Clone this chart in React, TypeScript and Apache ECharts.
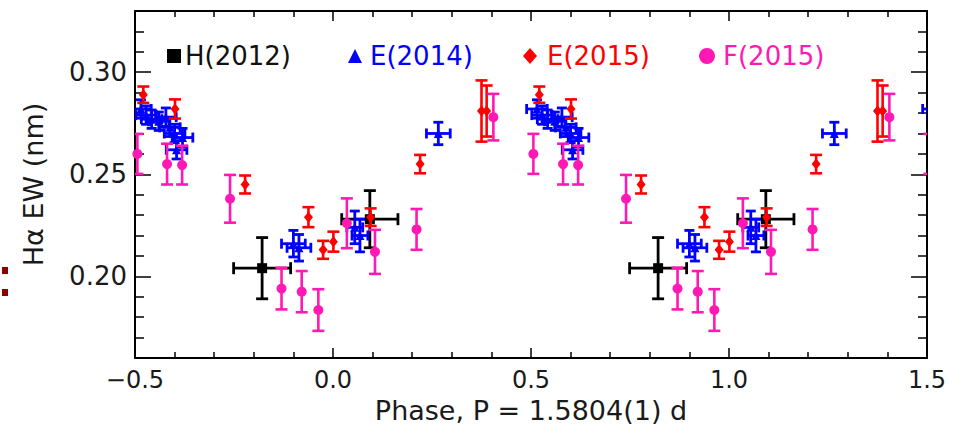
import React, { useEffect, useRef } from "react";
import * as echarts from "echarts";

const FONT = '"DejaVu Sans", "Liberation Sans", sans-serif';
const TEXT_COLOR = "#1a1a1a";

// Phase-folded measurements (phase in [-0.5, 0.5), Hα equivalent width in nm)
const h2012Phase = [-0.179, 0.093];
const h2012Ew = [0.204, 0.228];
const h2012PhaseErr = [0.072, 0.071];
const h2012EwErr = [0.015, 0.014];

const e2014Phase = [-0.485, -0.472, -0.458, -0.44, -0.422, -0.412, -0.4, -0.38, -0.395, -0.1, -0.086, 0.055, 0.068, 0.266];
const e2014Ew = [0.282, 0.279, 0.277, 0.276, 0.278, 0.273, 0.27, 0.268, 0.262, 0.216, 0.214, 0.224, 0.22, 0.27];
const e2014PhaseErr = [0.026, 0.026, 0.026, 0.026, 0.026, 0.026, 0.026, 0.026, 0.026, 0.03, 0.03, 0.02, 0.02, 0.03];
const e2014EwErr = [0.0045, 0.0045, 0.0045, 0.0045, 0.0045, 0.0045, 0.0045, 0.0045, 0.0045, 0.0065, 0.0065, 0.008, 0.008, 0.0055];

const e2015Phase = [-0.479, -0.399, -0.222, -0.062, -0.025, 0.001, 0.095, 0.22, 0.375, 0.388];
const e2015Ew = [0.289, 0.282, 0.245, 0.229, 0.213, 0.217, 0.229, 0.255, 0.281, 0.281];
const e2015EwErr = [0.004, 0.0047, 0.0044, 0.0049, 0.0044, 0.0049, 0.0043, 0.0045, 0.015, 0.0125];

const f2015Phase = [-0.494, -0.419, -0.381, -0.26, -0.13, -0.079, -0.037, 0.035, 0.106, 0.211, 0.405];
const f2015Ew = [0.26, 0.255, 0.2545, 0.238, 0.194, 0.1925, 0.1835, 0.226, 0.212, 0.223, 0.278];
const f2015EwErr = [0.0098, 0.01, 0.0095, 0.0117, 0.0102, 0.0101, 0.0102, 0.0122, 0.0108, 0.01, 0.0114];

// Each measurement is repeated once per cycle so the curve is shown twice
const CYCLE_OFFSETS = [0, 1, 2];

const xTicks = { min: -0.5, max: 1.5, step: 0.5 };
const yRange = { min: 0.16, max: 0.33 };

const X_TITLE = "Phase, P = 1.5804(1) d";
const Y_TITLE = "Hα EW (nm)";

type Group = {
  name: string;
  color: string;
  symbol: string;
  symbolSize: number | number[];
  phase: number[];
  ew: number[];
  phaseErr: number[] | null;
  ewErr: number[];
  cap: number;
  lineWidth: number;
};

const groups: Group[] = [
  { name: "H(2012)", color: "#000000", symbol: "rect", symbolSize: 10, phase: h2012Phase, ew: h2012Ew, phaseErr: h2012PhaseErr, ewErr: h2012EwErr, cap: 6, lineWidth: 2.8 },
  { name: "E(2014)", color: "#0000ff", symbol: "triangle", symbolSize: 9, phase: e2014Phase, ew: e2014Ew, phaseErr: e2014PhaseErr, ewErr: e2014EwErr, cap: 5, lineWidth: 2.8 },
  { name: "E(2015)", color: "#ff0000", symbol: "diamond", symbolSize: [9, 11], phase: e2015Phase, ew: e2015Ew, phaseErr: null, ewErr: e2015EwErr, cap: 6, lineWidth: 2.6 },
  { name: "F(2015)", color: "#ff19b4", symbol: "circle", symbolSize: 10, phase: f2015Phase, ew: f2015Ew, phaseErr: null, ewErr: f2015EwErr, cap: 6, lineWidth: 2.6 },
];

function errorRows(g: Group) {
  const rows: number[][] = [];
  CYCLE_OFFSETS.forEach((off) => {
    g.phase.forEach((p, i) => {
      rows.push([p + off, g.ew[i], g.phaseErr ? g.phaseErr[i] : 0, g.ewErr[i]]);
    });
  });
  return rows;
}

function pointRows(g: Group) {
  const rows: number[][] = [];
  CYCLE_OFFSETS.forEach((off) => {
    g.phase.forEach((p, i) => rows.push([p + off, g.ew[i]]));
  });
  return rows;
}

function errorBarRenderer(color: string, cap: number, lineWidth: number) {
  return (params: any, api: any) => {
    const x = api.value(0);
    const y = api.value(1);
    const xe = api.value(2);
    const ye = api.value(3);
    const style = { stroke: color, lineWidth, fill: "none" };
    const children: any[] = [];
    if (ye > 0) {
      const t = api.coord([x, y + ye]);
      const b = api.coord([x, y - ye]);
      children.push({ type: "line", shape: { x1: t[0], y1: t[1], x2: b[0], y2: b[1] }, style });
      children.push({ type: "line", shape: { x1: t[0] - cap, y1: t[1], x2: t[0] + cap, y2: t[1] }, style });
      children.push({ type: "line", shape: { x1: b[0] - cap, y1: b[1], x2: b[0] + cap, y2: b[1] }, style });
    }
    if (xe > 0) {
      const l = api.coord([x - xe, y]);
      const r = api.coord([x + xe, y]);
      children.push({ type: "line", shape: { x1: l[0], y1: l[1], x2: r[0], y2: r[1] }, style });
      children.push({ type: "line", shape: { x1: l[0], y1: l[1] - cap, x2: l[0], y2: l[1] + cap }, style });
      children.push({ type: "line", shape: { x1: r[0], y1: r[1] - cap, x2: r[0], y2: r[1] + cap }, style });
    }
    return { type: "group", children };
  };
}

const tickLine = { color: "#000", width: 1.5 };
const axisLine = { show: true, onZero: false, lineStyle: { color: "#000", width: 2 } };

function fmtPhase(v: number) {
  return (v < 0 ? "\u2212" : "") + Math.abs(v).toFixed(1);
}

export default function App() {
  const ref = useRef<HTMLDivElement>(null);

  useEffect(() => {
    if (!ref.current) return;
    const chart = echarts.init(ref.current, undefined, { renderer: "svg" });

    const series: any[] = [];
    groups.forEach((g, gi) => {
      series.push({
        type: "custom",
        name: g.name + " error",
        clip: true,
        z: 2 + gi * 2,
        data: errorRows(g),
        encode: { x: 0, y: 1 },
        renderItem: errorBarRenderer(g.color, g.cap, g.lineWidth),
        silent: true,
      });
      series.push({
        type: "scatter",
        name: g.name,
        clip: true,
        z: 3 + gi * 2,
        symbol: g.symbol,
        symbolSize: g.symbolSize,
        itemStyle: { color: g.color, opacity: 1 },
        data: pointRows(g),
      });
    });

    // Legend row drawn inside the plot frame
    const legendY = 56;
    const legendFont = { fontFamily: FONT, fontSize: 26 };
    const graphic: any[] = [
      { type: "rect", left: 2, top: 267, shape: { width: 6, height: 7 }, style: { fill: "#8b0000" } },
      { type: "rect", left: 2, top: 289, shape: { width: 6, height: 7 }, style: { fill: "#8b0000" } },
      { type: "rect", shape: { x: 167, y: legendY - 7, width: 14, height: 14 }, style: { fill: groups[0].color } },
      { type: "text", x: 185, y: legendY, style: { text: groups[0].name, fill: "#111", ...legendFont, verticalAlign: "middle" } },
      { type: "polygon", shape: { points: [[348, legendY + 7], [362, legendY + 7], [355, legendY - 7]] }, style: { fill: groups[1].color } },
      { type: "text", x: 370, y: legendY, style: { text: groups[1].name, fill: groups[1].color, ...legendFont, verticalAlign: "middle" } },
      { type: "polygon", shape: { points: [[530, legendY - 8], [537, legendY], [530, legendY + 8], [523, legendY]] }, style: { fill: groups[2].color } },
      { type: "text", x: 547, y: legendY, style: { text: groups[2].name, fill: groups[2].color, ...legendFont, verticalAlign: "middle" } },
      { type: "circle", shape: { cx: 707, cy: legendY, r: 8 }, style: { fill: groups[3].color } },
      { type: "text", x: 723, y: legendY, style: { text: groups[3].name, fill: groups[3].color, ...legendFont, verticalAlign: "middle" } },
    ];

    const xBase = {
      type: "value",
      min: xTicks.min,
      max: xTicks.max,
      interval: xTicks.step,
      axisLine,
      splitLine: { show: false },
      axisTick: { show: true, inside: true, length: 10, lineStyle: tickLine },
      minorTick: { show: true, splitNumber: 5, length: 6, lineStyle: tickLine },
    };
    const yBase = {
      type: "value",
      min: yRange.min,
      max: yRange.max,
      splitNumber: 4,
      axisLine,
      splitLine: { show: false },
      axisTick: { show: true, inside: true, length: 16, lineStyle: tickLine },
      minorTick: { show: true, splitNumber: 5, length: 9, lineStyle: tickLine },
    };

    chart.setOption({
      animation: false,
      backgroundColor: "#ffffff",
      grid: { left: 135, top: 11, width: 792, height: 347, containLabel: false },
      xAxis: [
        {
          ...xBase,
          position: "bottom",
          axisLabel: { show: true, margin: 10, color: TEXT_COLOR, fontFamily: FONT, fontSize: 24, formatter: fmtPhase },
          name: X_TITLE,
          nameLocation: "middle",
          nameGap: 37,
          nameTextStyle: { color: TEXT_COLOR, fontFamily: FONT, fontSize: 27 },
        },
        { ...xBase, position: "top", axisLabel: { show: false } },
      ],
      yAxis: [
        {
          ...yBase,
          position: "left",
          axisLabel: {
            show: true,
            margin: 8,
            color: TEXT_COLOR,
            fontFamily: FONT,
            fontSize: 26,
            showMinLabel: false,
            showMaxLabel: false,
            formatter: (v: number) => v.toFixed(2),
          },
          name: Y_TITLE,
          nameLocation: "middle",
          nameGap: 88,
          nameTextStyle: { color: TEXT_COLOR, fontFamily: FONT, fontSize: 27 },
        },
        { ...yBase, position: "right", axisLabel: { show: false } },
      ],
      graphic,
      series,
    });

    return () => chart.dispose();
  }, []);

  return (
    <div
      ref={ref}
      style={{ position: "fixed", left: 0, top: 0, width: 964, height: 438, background: "#fff" }}
    />
  );
}
